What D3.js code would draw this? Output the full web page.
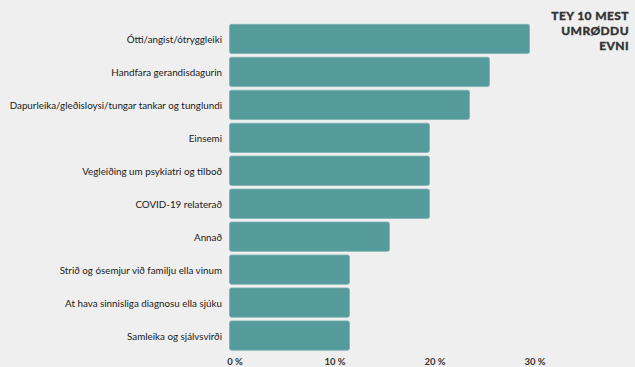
<!DOCTYPE html>
<html><head><meta charset="utf-8">
<script src="https://cdn.jsdelivr.net/npm/d3@7"></script>
<style>
html,body{margin:0;padding:0;background:#efefef;}
svg{display:block;font-family:Lato, "Open Sans", sans-serif;}
</style></head>
<body><svg id="c" width="635" height="367"></svg>
<script>
const categories = ["Ótti/angist/ótryggleiki","Handfara gerandisdagurin","Dapurleika/gleðisloysi/tungar tankar og tunglundi","Einsemi","Vegleiðing um psykiatri og tilboð","COVID-19 relaterað","Annað","Strið og ósemjur við familju ella vinum","At hava sinnisliga diagnosu ella sjúku","Samleika og sjálvsvirði"];
const values = [30, 26, 24, 20, 20, 20, 16, 12, 12, 12];
const tickValues = [0, 10, 20, 30];
const titleLines = ["TEY 10 MEST","UMRØDDU","EVNI"];

const svg = d3.select("#c");
const defs = svg.append("defs");
const f = defs.append("filter").attr("id","soft").attr("x","-5%").attr("y","-20%").attr("width","110%").attr("height","140%");
f.append("feGaussianBlur").attr("stdDeviation",0.6);

const x = d3.scaleLinear().domain([0,30]).range([229.5,529.5]);
const y = d3.scaleBand().domain(categories).range([21,353.5]).paddingInner(0.11).paddingOuter(0.1);

svg.append("g").selectAll("rect").data(categories).join("rect")
  .attr("x", x(0)).attr("y", d=>y(d))
  .attr("width", (d,i)=>x(values[i])-x(0)).attr("height", y.bandwidth())
  .attr("rx",2).attr("fill","#549b9c").attr("stroke","#7fb3b4").attr("stroke-width",0.8)
  .attr("filter","url(#soft)");

const yAxis = d3.axisLeft(y).tickSize(0).tickPadding(7.5);
const gy = svg.append("g").attr("transform",`translate(${x(0)},0)`).call(yAxis);
gy.select(".domain").remove();
gy.selectAll("text").attr("font-size","9.8px").attr("fill","#1a1a1a").attr("font-family","Lato, sans-serif").attr("dy","0.45em");

const xAxis = d3.axisBottom(x).tickValues(tickValues).tickSize(0).tickPadding(0).tickFormat(d=>d+" %");
const gx = svg.append("g").attr("transform","translate(5,358)").call(xAxis);
gx.select(".domain").remove();
gx.selectAll("text").attr("font-size","9.5px").attr("font-weight","700").attr("fill","#333").attr("font-family","Lato, sans-serif");

svg.append("g").selectAll("text").data(titleLines).join("text")
  .attr("x",629).attr("y",(d,i)=>19.5+i*15.3).attr("text-anchor","end")
  .attr("font-size","12px").attr("font-weight","900").attr("fill","#333")
  .attr("letter-spacing","0.4px").attr("stroke","#333").attr("stroke-width",0.3)
  .attr("font-family","Lato, sans-serif").text(d=>d);
</script></body></html>
